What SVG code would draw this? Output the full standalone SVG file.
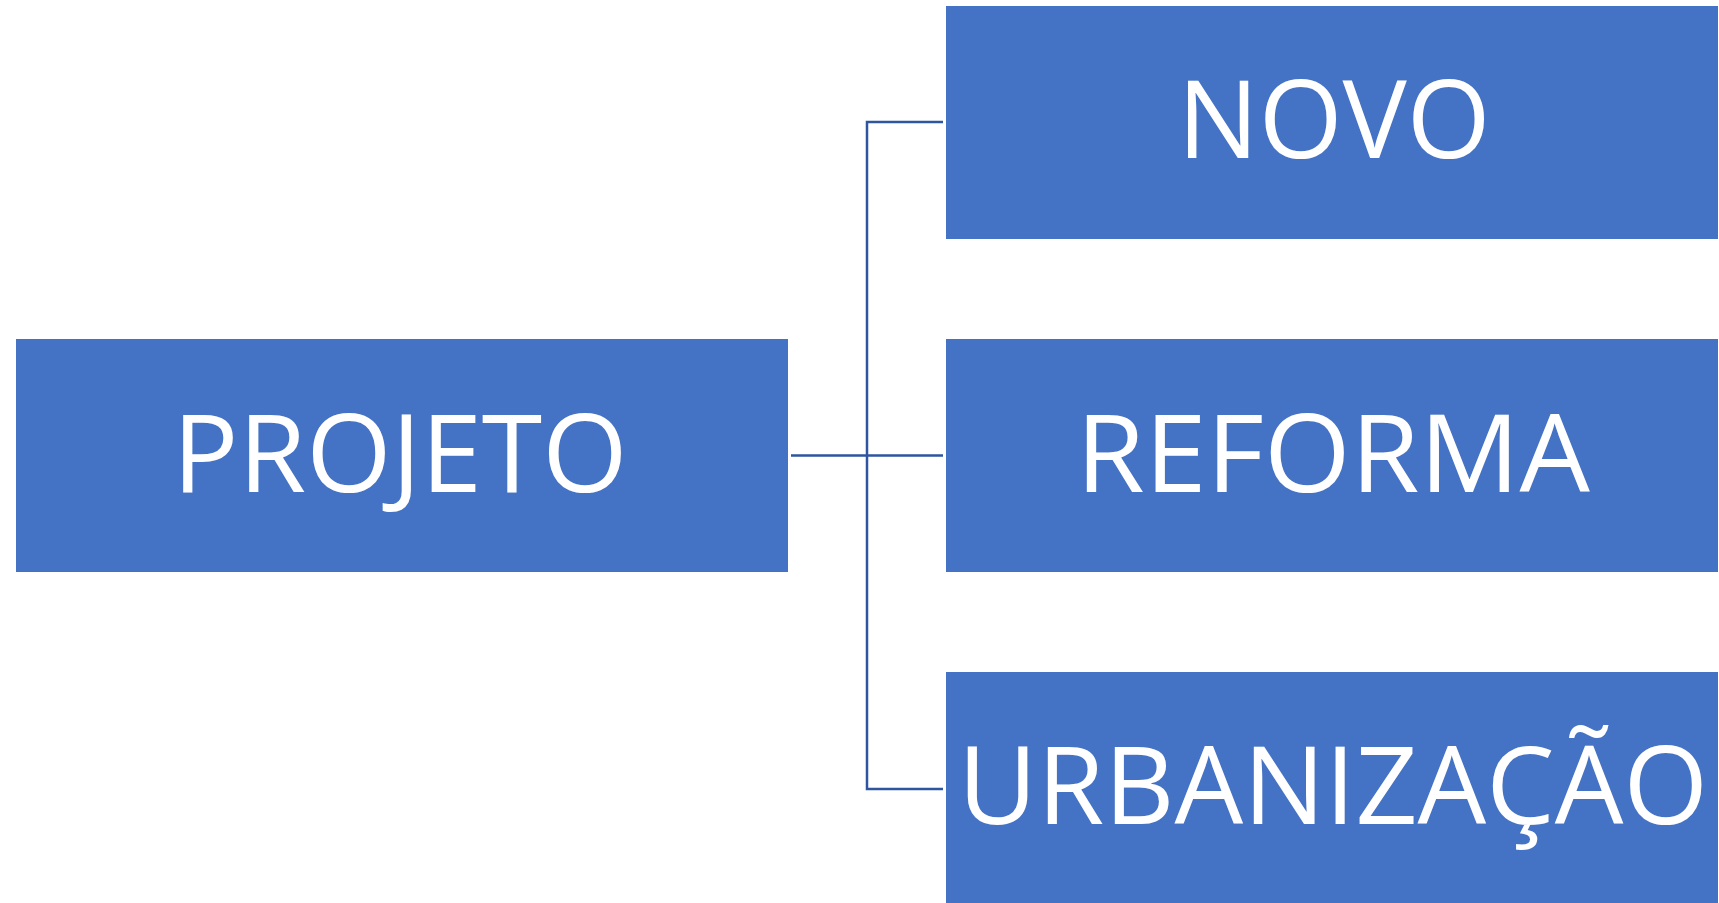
<svg xmlns="http://www.w3.org/2000/svg" width="1719" height="903" viewBox="0 0 1719 903">
<style>
.box{fill:#4472C4;}
.lbl{font-family:"Open Sans","Liberation Sans",sans-serif;font-size:108px;fill:#FFFFFF;text-anchor:middle;}
.con{fill:none;stroke:#2F55A0;stroke-width:2.5;}
</style>
<rect width="1719" height="903" fill="#FFFFFF"/>
<g id="connectors">
<polyline class="con" points="943,122 867,122 867,789 943,789"/>
<line class="con" x1="791" y1="455.5" x2="943" y2="455.5"/>
</g>
<g id="projeto">
<rect class="box" x="16" y="339" width="772" height="233"/>
<text class="lbl" x="400" y="492" textLength="455" lengthAdjust="spacingAndGlyphs">PROJETO</text>
</g>
<g id="novo">
<rect class="box" x="946" y="6" width="772" height="233"/>
<text class="lbl" x="1334" y="158" textLength="313" lengthAdjust="spacingAndGlyphs">NOVO</text>
</g>
<g id="reforma">
<rect class="box" x="946" y="339" width="772" height="233"/>
<text class="lbl" x="1333" y="492" textLength="514" lengthAdjust="spacingAndGlyphs">REFORMA</text>
</g>
<g id="urbanizacao">
<rect class="box" x="946" y="672" width="772" height="240"/>
<text class="lbl" x="1333" y="824" textLength="750" lengthAdjust="spacingAndGlyphs">URBANIZAÇÃO</text>
</g>
</svg>
